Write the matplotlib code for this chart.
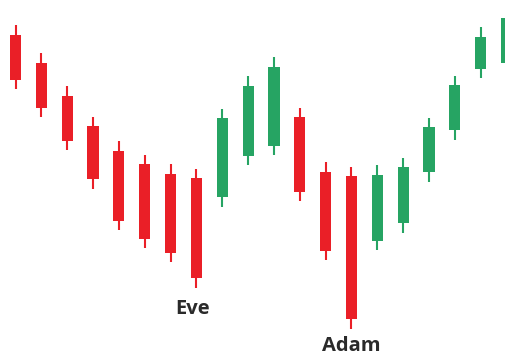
import matplotlib
matplotlib.use("Agg")
import matplotlib.pyplot as plt

# candle values (open, high, low, close)
opens = [325, 297, 264, 234, 209, 196, 186, 182, 163, 204,
         214, 243, 188, 184, 119, 137, 188, 230, 291, 297]
highs = [335, 307, 274, 243, 219, 205, 196, 191, 251, 284,
         303, 252, 198, 193, 195, 202, 242, 284, 333, 352]
lows = [271, 243, 210, 171, 130, 112, 98, 72, 153, 195,
        205, 159, 100, 31, 110, 127, 178, 220, 282, 288]
closes = [280, 252, 219, 181, 139, 121, 107, 82, 242, 274,
          293, 168, 109, 41, 185, 193, 233, 275, 323, 342]

labels = ["Eve", "Adam"]
label_at = [6.87, 13]
label_y = [50.5, 14]

red = "#EA1F27"
green = "#26A463"

fig = plt.figure(figsize=(5.05, 3.56), dpi=100)
ax = fig.add_axes([0, 0, 1, 1])

for i in range(len(opens)):
    o, h, l, c = opens[i], highs[i], lows[i], closes[i]
    col = green if c > o else red
    ax.vlines(i, l, h, color=col, linewidth=1.5)
    ax.bar(i, abs(c - o), bottom=min(o, c), width=0.43, color=col, linewidth=0)

for name, xi, yi in zip(labels, label_at, label_y):
    ax.text(xi, yi, name, ha="center", va="center", fontsize=14.5,
            fontweight="bold", color="#2a2a2a", family="Open Sans")

ax.set_xlim(-0.6, 18.94)
ax.set_ylim(4, 360)
ax.axis("off")

fig.savefig("out.png", dpi=100)
